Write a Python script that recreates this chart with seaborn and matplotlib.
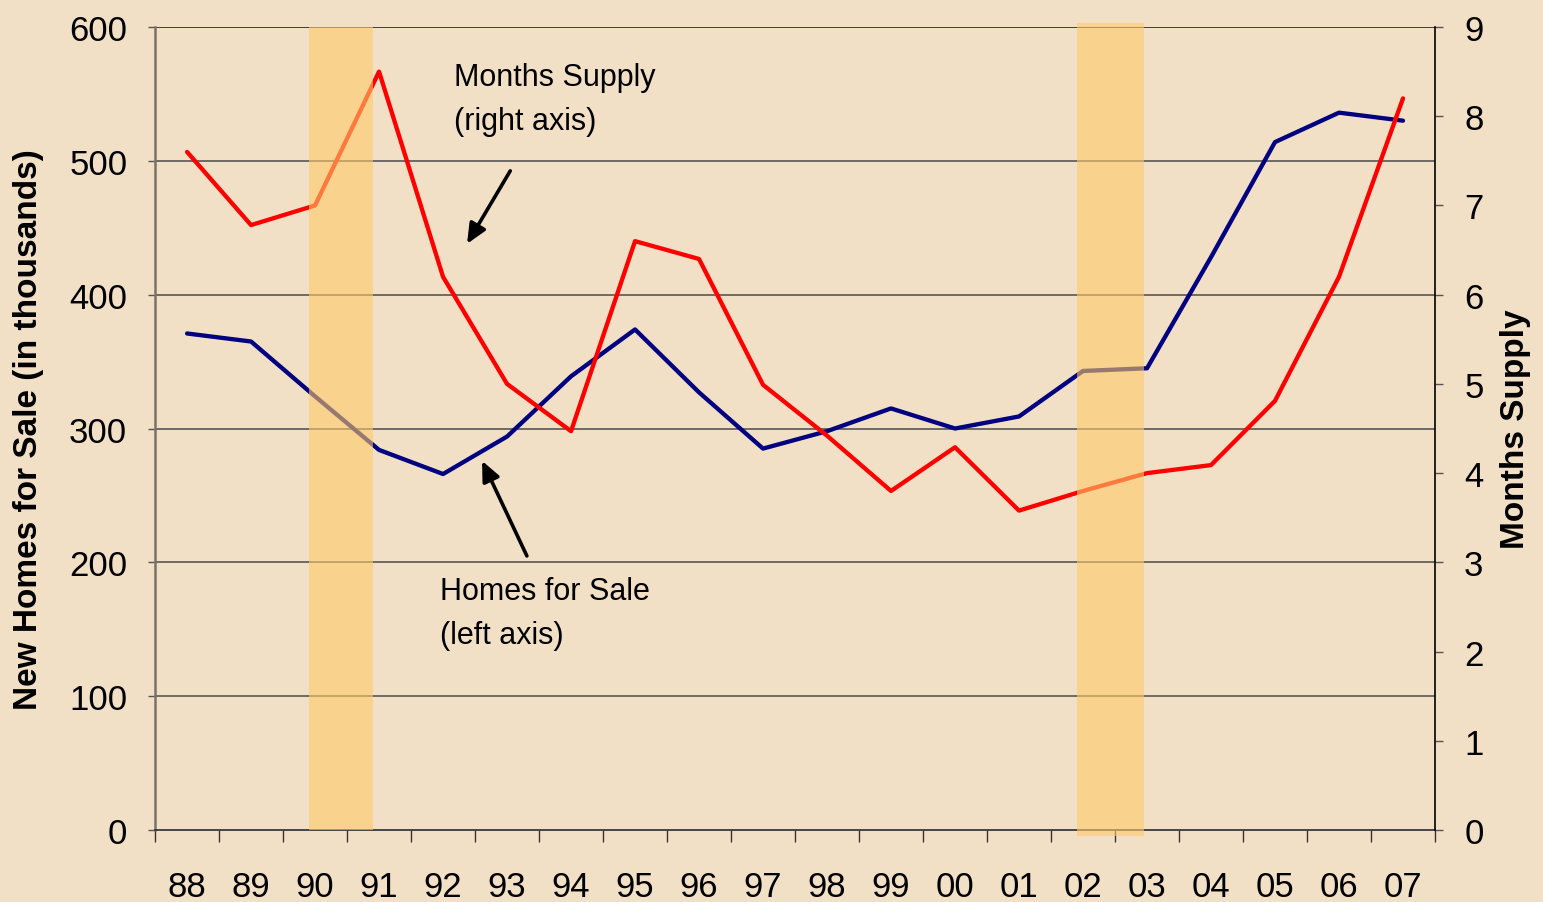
import matplotlib.pyplot as plt
import numpy as np
import pandas as pd
import seaborn as sns

YEARS = ["88", "89", "90", "91", "92", "93", "94", "95", "96", "97",
         "98", "99", "00", "01", "02", "03", "04", "05", "06", "07"]
HOMES_FOR_SALE = [371, 365, 324, 284, 266, 294, 339, 374, 327, 285,
                  298, 315, 300, 309, 343, 345, 428, 514, 536, 530]
MONTHS_SUPPLY = [7.6, 6.78, 7.0, 8.5, 6.2, 5.0, 4.47, 6.6, 6.4, 4.99,
                 4.42, 3.8, 4.29, 3.58, 3.8, 4.0, 4.09, 4.81, 6.2, 8.2]
RECESSIONS = [(1.9, 2.9), (13.9, 14.95)]

BG = "#F2E0C6"
SHADE = "#FECB69"
RED = "#FF0000"
NAVY = "#000080"

sns.set_theme(style="white")
plt.rcParams["font.family"] = ["Liberation Sans", "DejaVu Sans"]
plt.rcParams["text.color"] = "black"
plt.rcParams["axes.labelcolor"] = "black"
plt.rcParams["xtick.color"] = "black"
plt.rcParams["ytick.color"] = "black"

df = pd.DataFrame({
    "idx": np.arange(len(YEARS)),
    "year": YEARS,
    "homes": HOMES_FOR_SALE,
    "supply": MONTHS_SUPPLY,
})

fig = plt.figure(figsize=(15.43, 9.03), dpi=100, facecolor=BG)
ax = fig.add_axes([0.1005, 0.0797, 0.8295, 0.8893])
ax.set_facecolor(BG)
ax2 = ax.twinx()

sns.lineplot(data=df, x="idx", y="homes", ax=ax, color=NAVY, linewidth=3.1)
sns.lineplot(data=df, x="idx", y="supply", ax=ax2, color=RED, linewidth=3.1, zorder=2)

# recession bands over both lines
for i, (x0, x1) in enumerate(RECESSIONS):
    if i == 0:
        ax2.axvspan(x0, x1, color=SHADE, alpha=0.6, lw=0, zorder=5)
    else:
        ax2.axvspan(x0, x1, ymin=-0.007, ymax=1.005, color=SHADE, alpha=0.6,
                    lw=0, zorder=5, clip_on=False)

ax.set_xlim(-0.5, len(YEARS) - 0.5)
ax.set_ylim(0, 600)
ax2.set_ylim(0, 9)
ax.set_yticks(np.arange(0, 601, 100))
ax2.set_yticks(np.arange(0, 10, 1))

# horizontal gridlines on the left scale
for v in np.arange(100, 601, 100):
    ax.axhline(v, color="#111111" if v == 600 else "#4a4a4a", lw=1.1, zorder=0)

ax.set_xticks(np.arange(-0.5, len(YEARS), 1))
ax.set_xticklabels([])
ax.set_xticks(np.arange(len(YEARS)), minor=True)
ax.set_xticklabels(YEARS, minor=True)
ax.tick_params(axis="x", which="major", length=8.5, width=1, color="#333333",
               direction="out", bottom=True)
ax.tick_params(axis="x", which="minor", length=0, pad=29, labelsize=25, bottom=True)
ax.tick_params(axis="y", length=5, width=1, color="#555555", direction="out",
               left=True, pad=15, labelsize=25)
ax2.tick_params(axis="y", length=6, width=1, color="#555555", direction="out",
                right=True, pad=15, labelsize=25)

ax.set_xlabel("")
ax.set_ylabel("New Homes for Sale (in thousands)", fontsize=24,
              fontweight="bold", labelpad=18)
ax2.set_ylabel("Months Supply", fontsize=24, fontweight="bold", labelpad=12)

for a in (ax, ax2):
    a.spines["top"].set_visible(False)
ax.spines["left"].set_color("#7a7266")
ax.spines["left"].set_linewidth(1.8)
ax.spines["bottom"].set_color("#333333")
ax.spines["right"].set_visible(False)
ax2.spines["left"].set_visible(False)
ax2.spines["bottom"].set_visible(False)
ax2.spines["right"].set_color("#000000")
ax2.spines["right"].set_linewidth(1.2)

arrow_style = dict(arrowstyle="-|>,head_length=1.0,head_width=0.45",
                   color="black", lw=2.6, shrinkA=0, shrinkB=0)
ax.annotate("", xy=(4.375, 438), xytext=(5.05, 492.5),
            arrowprops=arrow_style, zorder=6)
ax.annotate("", xy=(4.61, 275.8), xytext=(5.31, 204.8),
            arrowprops=arrow_style, zorder=6)
ax.text(4.17, 574, "Months Supply\n(right axis)", fontsize=22, ha="left",
        va="top", linespacing=1.6, zorder=6)
ax.text(3.95, 190, "Homes for Sale\n(left axis)", fontsize=22, ha="left",
        va="top", linespacing=1.6, zorder=6)

fig.savefig("out.png", dpi=100, facecolor=BG)
